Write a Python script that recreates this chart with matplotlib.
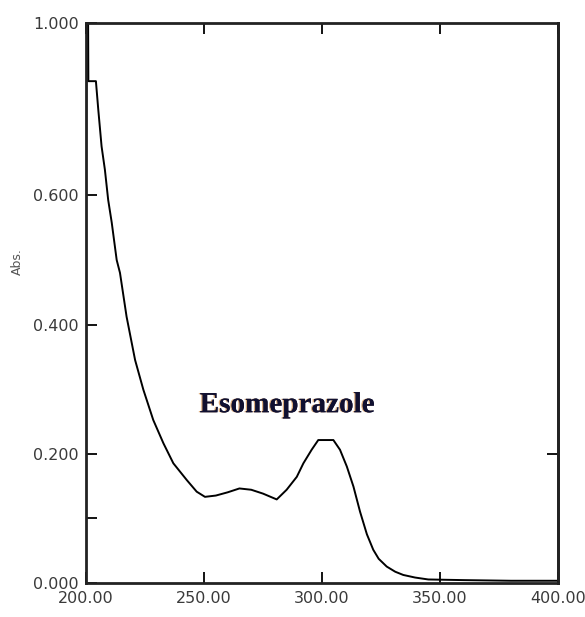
import matplotlib
matplotlib.use('Agg')
import matplotlib.pyplot as plt
import matplotlib.patheffects as pe

# spectrum (wavelength nm, absorbance)
wavelength = [200.0, 200.3, 200.8, 201.0, 204.2, 205.2, 206.6, 208.0, 209.4, 210.9,
              213.0, 214.4, 217.2, 220.8, 224.3, 228.5, 232.8, 237.0, 242.7, 246.9,
              250.4, 255.0, 260.0, 265.0, 270.0, 275.0, 280.8, 285.0, 289.3, 292.1,
              295.6, 298.4, 304.8, 307.6, 310.5, 313.3, 316.1, 319.0, 321.7, 324.0,
              327.4, 331.0, 334.4, 339.4, 345.0, 360.0, 380.0, 400.0]
absorbance = [0.630, 0.950, 0.950, 0.777, 0.777, 0.733, 0.676, 0.640, 0.593, 0.558,
              0.500, 0.480, 0.412, 0.345, 0.299, 0.252, 0.216, 0.185, 0.159, 0.141,
              0.133, 0.135, 0.140, 0.146, 0.144, 0.138, 0.129, 0.144, 0.164, 0.185,
              0.206, 0.221, 0.221, 0.206, 0.180, 0.149, 0.110, 0.075, 0.051, 0.037,
              0.025, 0.017, 0.012, 0.008, 0.005, 0.004, 0.003, 0.003]

y_top = 0.867  # visible top of the scan window, printed as "1.000" on the original
y_ticks = [0.0, 0.2, 0.4, 0.6, y_top]
y_labels = ['0.000', '0.200', '0.400', '0.600', '1.000']
x_ticks = [200, 250, 300, 350, 400]
x_labels = ['200.00', '250.00', '300.00', '350.00', '400.00']

fig = plt.figure(figsize=(5.85, 6.17), dpi=100)
ax = fig.add_axes([0.147, 0.0556, 0.807, 0.907])

ax.plot(wavelength, absorbance, color='black', lw=1.4)
ax.set_xlim(200, 400)
ax.set_ylim(0, y_top)

ax.set_xticks(x_ticks)
ax.set_xticklabels(x_labels)
ax.set_yticks(y_ticks)
ax.set_yticklabels(y_labels)
ax.set_yticks([0.1], minor=True)
ax.tick_params(axis='both', which='both', direction='in', length=8, width=1.3,
               labelsize=11.5, labelcolor='#3a3a3a', top=True, right=False)
ax.tick_params(axis='x', pad=6)
ax.tick_params(axis='y', pad=5)

# single inward tick on the right frame
right = ax.secondary_yaxis('right')
right.set_yticks([0.2])
right.set_yticklabels([])
right.tick_params(direction='in', length=8, width=1.3)
right.spines['right'].set_linewidth(2)
right.spines['right'].set_color('#222222')

for side in ax.spines.values():
    side.set_linewidth(2)
    side.set_color('#222222')

ax.set_ylabel('Abs.', fontsize=9, color='#555555')
ax.yaxis.set_label_coords(-0.132, 0.573)

ax.text(0.426, 0.318, 'Esomeprazole', transform=ax.transAxes, ha='center', va='center',
        fontsize=21, fontweight='bold', family='Liberation Serif', color='#101030',
        path_effects=[pe.withSimplePatchShadow(offset=(-1, 0), shadow_rgbFace='#c07020', alpha=0.6),
                      pe.Normal()])

plt.savefig('out.png', dpi=100)
plt.close()
